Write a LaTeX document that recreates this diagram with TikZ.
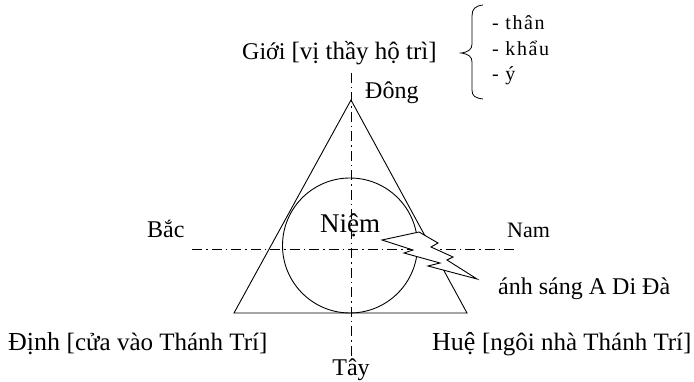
\documentclass[tikz,border=0pt]{standalone}
\usepackage{fontspec}
\setmainfont{Liberation Serif}
\newcommand{\brk}{\fontsize{25}{27}\selectfont}
\begin{document}
\begin{tikzpicture}[x=1pt,y=-1pt,
  ln/.style={line width=0.9pt},
  axis/.style={line width=0.75pt, dash pattern=on 10pt off 4pt on 1.5pt off 4pt},
  lbl/.style={inner sep=0pt, anchor=base west},
  sml/.style={inner sep=0pt, anchor=base west, font=\fontsize{20}{22}\selectfont\addfontfeature{LetterSpace=8}}]
\useasboundingbox (0,0) rectangle (694,382);
% axes
\coordinate (vt) at (351,73);
\coordinate (vb) at (351,357);
\coordinate (hl) at (192,249);
\coordinate (hr) at (515,249);
\draw[axis] (vt) -- (vb);
\draw[axis] (hl) -- (hr);
% triangle and circle
\coordinate (apex) at (351,100);
\coordinate (bl) at (234,313);
\coordinate (br) at (467,313);
\draw[ln] (apex) -- (bl) -- (br) -- cycle;
\coordinate (cc) at (350,245.5);
\draw[ln] (cc) circle[radius=67.5];
% lightning
\draw[ln, fill=white, line join=miter]
  (419,232) -- (438,243) -- (431,247) -- (453,257) -- (447,260) -- (477,279)
  -- (428,266) -- (440,263) -- (404,253) -- (413,250) -- (382,240) -- cycle;
% brace
\draw[line width=0.8pt] (483,5) .. controls (475,6) and (472,9) .. (472,16)
  -- (472,44) .. controls (472,49) and (469,52) .. (461,53)
  .. controls (469,54) and (472,57) .. (472,62)
  -- (472,90) .. controls (472,96) and (475,98) .. (483,99);
% labels
\node[lbl, font=\fontsize{24}{26}\selectfont] (gioi) at (242,60) {Giới {\brk[vị thầy hộ trì]}};
\node[sml] (than) at (492,30) {- thân};
\node[sml] (khau) at (492,56) {- khẩu};
\node[sml] (y) at (492,81) {- ý};
\node[lbl, font=\fontsize{24}{26}\selectfont] (dong) at (365,99) {Đông};
\node[lbl, font=\fontsize{24}{26}\selectfont] (bac) at (147,238) {Bắc};
\node[lbl, font=\fontsize{27}{29}\selectfont] (niem) at (320,233) {Niệm};
\node[lbl, font=\fontsize{22}{24}\selectfont] (nam) at (507,238) {Nam};
\node[lbl, font=\fontsize{24}{26}\selectfont] (anh) at (498,295) {ánh sáng A Di Đà};
\node[lbl, font=\fontsize{26}{28}\selectfont] (dinh) at (8,350) {Định {\brk[cửa vào Thánh Trí]}};
\node[lbl, font=\fontsize{26}{28}\selectfont] (hue) at (432,350) {Huệ {\brk[ngôi nhà Thánh Trí]}};
\node[inner sep=0pt, anchor=base, font=\fontsize{24}{26}\selectfont] (tay) at (351,375) {Tây};
\end{tikzpicture}
\end{document}
